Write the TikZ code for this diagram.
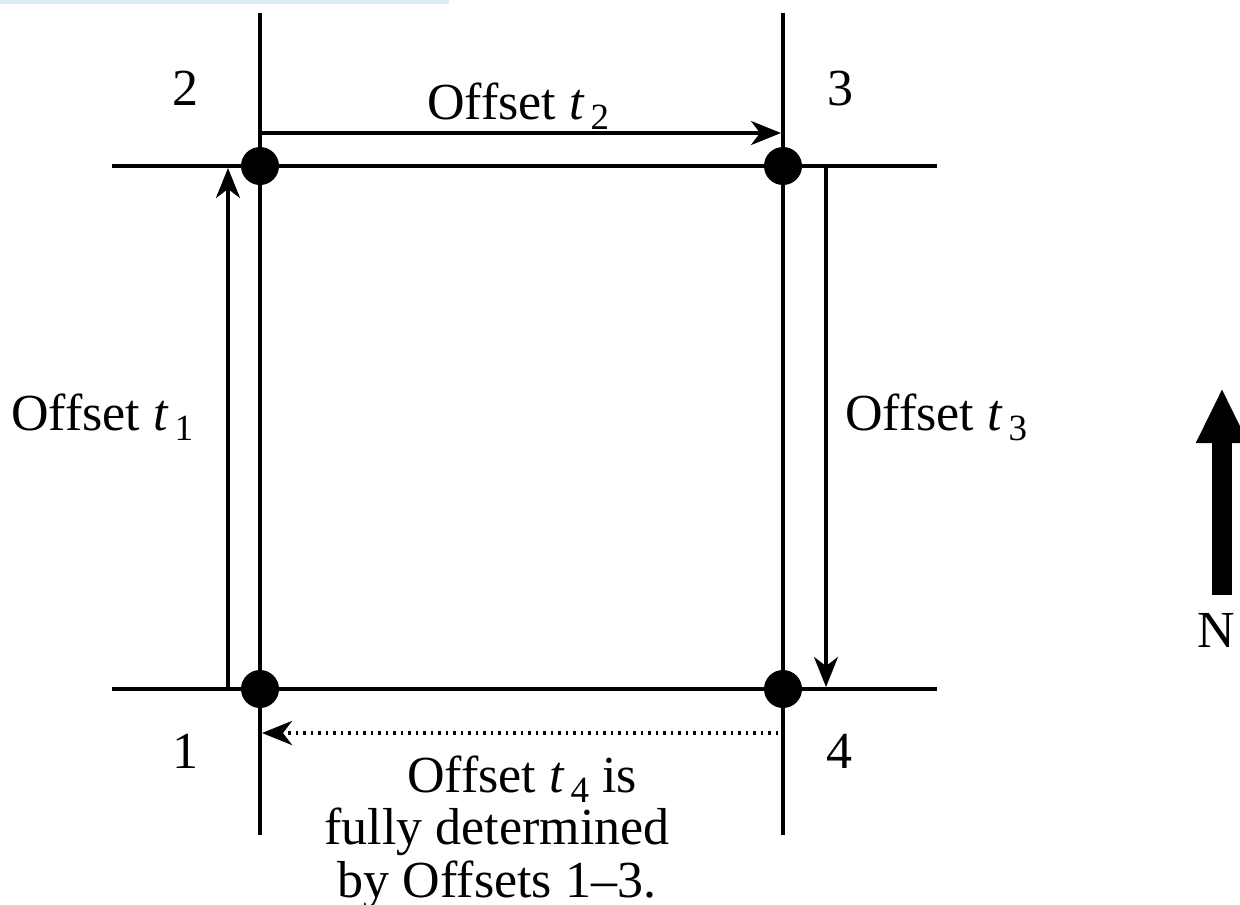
\documentclass[tikz,border=0pt]{standalone}
\usepackage{fontspec}
\setmainfont{Liberation Serif}
\usetikzlibrary{arrows.meta}
\definecolor{barblue}{RGB}{218,236,244}
\newcommand{\tsub}[1]{\textit{t}\kern6pt\raisebox{-10pt}{\fontsize{37}{37}\selectfont #1}}
\begin{document}
\begin{tikzpicture}[x=1pt,y=-1pt,
  road/.style={line width=4.5pt},
  junction/.style={circle,fill=black,inner sep=0pt,minimum size=38pt},
  offarrow/.style={line width=3.5pt,-{Stealth[length=30pt,width=24pt,inset=9pt]}},
  dotarrow/.style={line width=4pt,dash pattern=on 2.5pt off 5pt,-{Stealth[length=30pt,width=24pt,inset=9pt]}},
  lbl/.style={font=\fontsize{52}{54}\selectfont,inner sep=0pt}]
\useasboundingbox (0,0) rectangle (1240,905);
\fill[white] (0,0) rectangle (1240,905);
\fill[barblue] (0,0) rectangle (449,4);
% road ends
\coordinate (vlt) at (260,13);
\coordinate (vlb) at (260,835);
\coordinate (vrt) at (783,13);
\coordinate (vrb) at (783,835);
\coordinate (hul) at (112,166);
\coordinate (hur) at (937,166);
\coordinate (hll) at (112,689);
\coordinate (hlr) at (937,689);
\draw[road] (vlt) -- (vlb);
\draw[road] (vrt) -- (vrb);
\draw[road] (hul) -- (hur);
\draw[road] (hll) -- (hlr);
% junctions
\node[junction] (j1) at (260,689) {};
\node[junction] (j2) at (260,166) {};
\node[junction] (j3) at (783,166) {};
\node[junction] (j4) at (783,689) {};
% offset arrows
\coordinate (a1s) at (228,689);
\coordinate (a1e) at (228,168);
\draw[offarrow] (a1s) -- (a1e);
\coordinate (a2s) at (262,133);
\coordinate (a2e) at (781,133);
\draw[offarrow] (a2s) -- (a2e);
\coordinate (a3s) at (826,166);
\coordinate (a3e) at (826,687);
\draw[offarrow] (a3s) -- (a3e);
\coordinate (a4s) at (778,733);
\coordinate (a4e) at (262,733);
\draw[dotarrow] (a4s) -- (a4e);
% labels
\node[lbl,anchor=base] (n2) at (185,105) {2};
\node[lbl,anchor=base] (n3) at (840,105) {3};
\node[lbl,anchor=base] (n1) at (185,768) {1};
\node[lbl,anchor=base] (n4) at (839,768) {4};
\node[lbl,anchor=base west] (o2) at (427,119) {Offset \tsub{2}};
\node[lbl,anchor=base west] (o1) at (11,430) {Offset \tsub{1}};
\node[lbl,anchor=base west] (o3) at (845,430) {Offset \tsub{3}};
\node[lbl,anchor=base,align=center,font=\fontsize{52}{52.5}\selectfont] (o4) at (497,897) {\hspace*{50pt}Offset \tsub{4} is\\fully determined\\by Offsets 1--3.};
% north arrow
\coordinate (ns) at (1222,595);
\coordinate (ne) at (1222,388);
\draw[line width=20pt,-{Triangle[length=55pt,width=48pt]}] (ns) -- (ne);
\node[lbl,anchor=base west] (N) at (1197,647) {N};
\end{tikzpicture}
\end{document}
